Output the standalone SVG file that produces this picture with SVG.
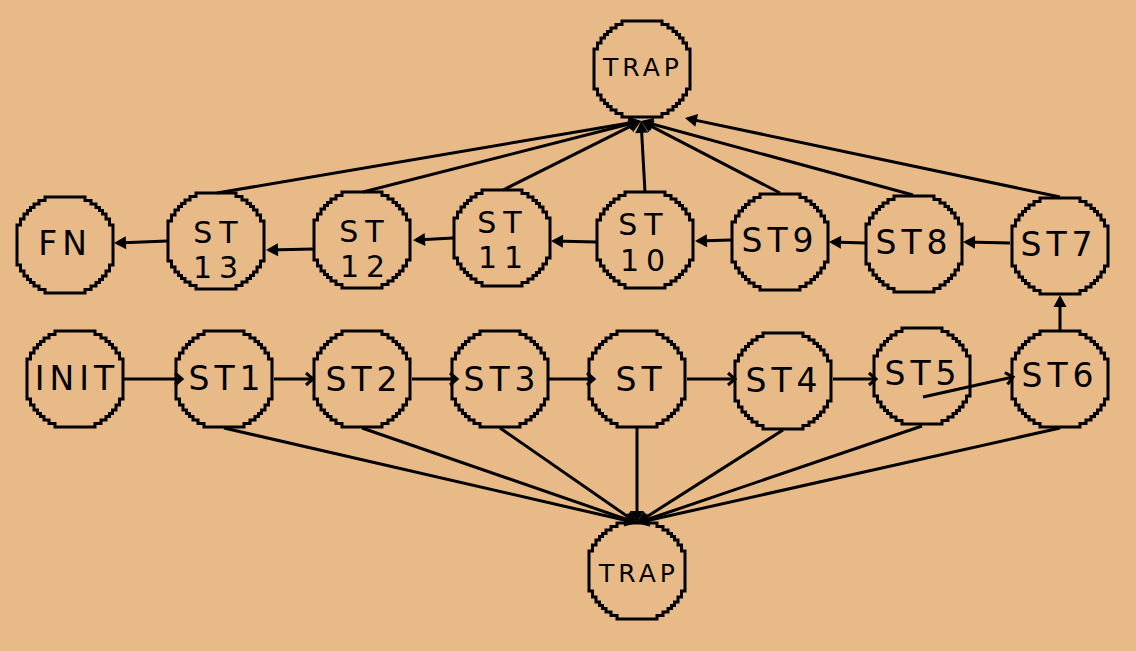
<svg xmlns="http://www.w3.org/2000/svg" width="1136" height="651" viewBox="0 0 1136 651">
  <style>
    .ring { fill: none; stroke: #000; stroke-width: 3; stroke-linejoin: miter; }
    .lbl { font-family: "DejaVu Sans", "Liberation Sans", sans-serif; font-size: 33px; fill: #000; text-anchor: middle; letter-spacing: 5px; }
    .two { font-size: 30px; letter-spacing: 7px; }
    .trap { font-size: 25px; letter-spacing: 4px; }
    .edge { fill: none; stroke: #000; stroke-width: 3; stroke-linecap: butt; }
    .solid { marker-end: url(#tri); }
    .open { marker-end: url(#chev); }
  </style>
  <defs>
    <!-- stair-stepped (pixel) circle outline, centred on the origin -->
    <path id="ring" class="ring" d="M-20,-48 L20,-48 20,-44.5 26,-44.5 26,-41 31,-41 31,-37.5 34.5,-37.5 34.5,-34.5 37.5,-34.5 37.5,-31 41,-31 41,-26 44.5,-26 44.5,-20 48,-20 48,20 44.5,20 44.5,26 41,26 41,31 37.5,31 37.5,34.5 34.5,34.5 34.5,37.5 31,37.5 31,41 26,41 26,44.5 20,44.5 20,48 -20,48 -20,44.5 -26,44.5 -26,41 -31,41 -31,37.5 -34.5,37.5 -34.5,34.5 -37.5,34.5 -37.5,31 -41,31 -41,26 -44.5,26 -44.5,20 -48,20 -48,-20 -44.5,-20 -44.5,-26 -41,-26 -41,-31 -37.5,-31 -37.5,-34.5 -34.5,-34.5 -34.5,-37.5 -31,-37.5 -31,-41 -26,-41 -26,-44.5 -20,-44.5 Z"/>
    <marker id="tri" markerUnits="userSpaceOnUse" markerWidth="16" markerHeight="16" refX="-3" refY="0" orient="auto" overflow="visible">
      <path d="M-12,-6.5 L0,0 L-12,6.5 Z" fill="#000"/>
    </marker>
    <marker id="chev" markerUnits="userSpaceOnUse" markerWidth="16" markerHeight="16" refX="0" refY="0" orient="auto" overflow="visible">
      <path d="M-7,-6 L0,0 L-7,6" fill="none" stroke="#000" stroke-width="3"/>
    </marker>
  </defs>

  <rect width="1136" height="651" fill="#e8ba88"/>

  <g id="trap-top"><use href="#ring" x="642" y="69"/><text class="lbl trap" x="643" y="76">TRAP</text></g>
  <g id="fn"><use href="#ring" x="65" y="245"/><text class="lbl" x="65" y="255">FN</text></g>
  <g id="st13"><use href="#ring" x="216" y="241"/><text class="lbl two"><tspan x="219" y="243">ST</tspan><tspan x="219" y="278">13</tspan></text></g>
  <g id="st12"><use href="#ring" x="362" y="240"/><text class="lbl two"><tspan x="365" y="242">ST</tspan><tspan x="366" y="277">12</tspan></text></g>
  <g id="st11"><use href="#ring" x="502" y="238"/><text class="lbl two"><tspan x="503" y="233">ST</tspan><tspan x="504" y="268">11</tspan></text></g>
  <g id="st10"><use href="#ring" x="645" y="240"/><text class="lbl two"><tspan x="644" y="235">ST</tspan><tspan x="646" y="271">10</tspan></text></g>
  <g id="st9"><use href="#ring" x="780" y="242"/><text class="lbl" x="780" y="252">ST9</text></g>
  <g id="st8"><use href="#ring" x="914" y="244"/><text class="lbl" x="914" y="254">ST8</text></g>
  <g id="st7"><use href="#ring" x="1060" y="246"/><text class="lbl" x="1059" y="256">ST7</text></g>
  <g id="init"><use href="#ring" x="75" y="379"/><text class="lbl" x="77" y="390">INIT</text></g>
  <g id="st1"><use href="#ring" x="224" y="379"/><text class="lbl" x="227" y="390">ST1</text></g>
  <g id="st2"><use href="#ring" x="362" y="379"/><text class="lbl" x="364" y="391">ST2</text></g>
  <g id="st3"><use href="#ring" x="500" y="379"/><text class="lbl" x="502" y="391">ST3</text></g>
  <g id="st"><use href="#ring" x="637" y="379"/><text class="lbl" x="641" y="391">ST</text></g>
  <g id="st4"><use href="#ring" x="783" y="381"/><text class="lbl" x="784" y="392">ST4</text></g>
  <g id="st5"><use href="#ring" x="922" y="376"/><text class="lbl" x="923" y="385">ST5</text></g>
  <g id="st6"><use href="#ring" x="1060" y="379"/><text class="lbl" x="1060" y="387">ST6</text></g>
  <g id="trap-bottom"><use href="#ring" x="637" y="571"/><text class="lbl trap" x="639" y="582">TRAP</text></g>

  <g id="connectors">
    <!-- upper row, right to left -->
    <path class="edge solid" d="M167,241 L117,243"/>
    <path class="edge solid" d="M313,249 L269,250"/>
    <path class="edge solid" d="M453,238 L416,240"/>
    <path class="edge solid" d="M596,242 L554,241"/>
    <path class="edge solid" d="M731,240 L698,241"/>
    <path class="edge solid" d="M865,243 L832,242"/>
    <path class="edge solid" d="M1010,243 L966,242"/>
    <path class="edge solid" d="M1060,330 L1060,298"/>
    <!-- upper row into the top trap -->
    <path class="edge solid" d="M217,193 L638,121.5"/>
    <path class="edge solid" d="M363,192 L638.1,121.7"/>
    <path class="edge solid" d="M503,190 L638.3,122.3"/>
    <path class="edge solid" d="M645,192 L641.2,124"/>
    <path class="edge solid" d="M780,193 L643.7,122.4"/>
    <path class="edge solid" d="M913,195 L643.9,121.8"/>
    <path class="edge solid" d="M1060,197 L687.9,118.6"/>
    <!-- lower row into the bottom trap -->
    <path class="edge solid" d="M224,428 L634.1,522.3"/>
    <path class="edge solid" d="M362,428 L634.2,522"/>
    <path class="edge solid" d="M500,428 L634.5,521.3"/>
    <path class="edge solid" d="M637,428 L637,520"/>
    <path class="edge solid" d="M783,430 L639.5,521.4"/>
    <path class="edge solid" d="M922,426 L639.8,522"/>
    <path class="edge solid" d="M1060,428 L639.9,522.3"/>
    <!-- lower row, left to right -->
    <path class="edge open" d="M124,379 L182,379"/>
    <path class="edge open" d="M274,379 L313,379"/>
    <path class="edge open" d="M412,379 L457,379"/>
    <path class="edge open" d="M549,379 L594,379"/>
    <path class="edge open" d="M687,379 L735,379"/>
    <path class="edge open" d="M833,379 L876,379"/>
    <path class="edge open" d="M923,397 L1013,377"/>
  </g>
</svg>
